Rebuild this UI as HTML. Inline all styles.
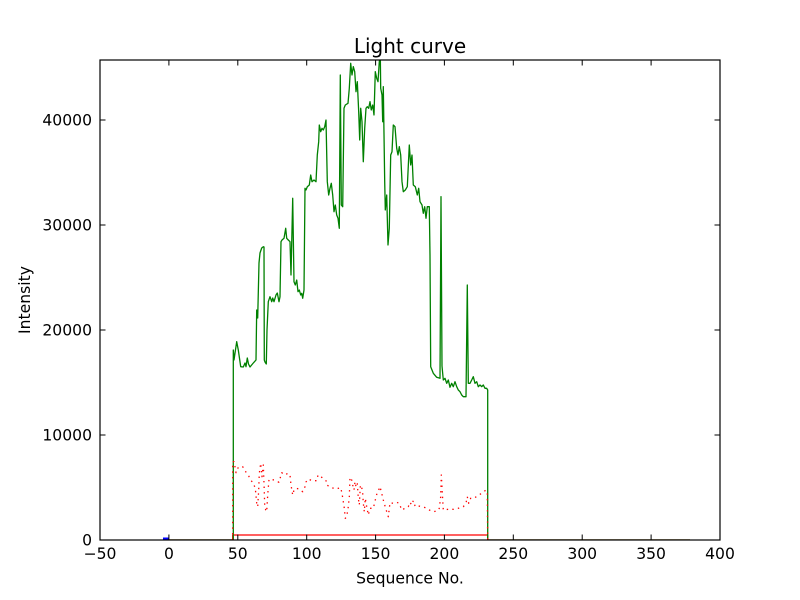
<!DOCTYPE html>
<html>
<head>
<meta charset="utf-8">
<style>
html,body{margin:0;padding:0;background:#fff;}
svg{display:block;}
text{font-family:"DejaVu Sans","Liberation Sans",sans-serif;fill:#000;}
</style>
</head>
<body>
<svg width="800" height="600" viewBox="0 0 800 600" xmlns="http://www.w3.org/2000/svg">
<rect x="0" y="0" width="800" height="600" fill="#fff"/>
<defs>
<clipPath id="pa"><rect x="100" y="60" width="620" height="480"/></clipPath>
</defs>
<g clip-path="url(#pa)" fill="none" stroke-linejoin="round">
<!-- red solid -->
<polyline stroke="#ff0000" stroke-width="1.3" points="168.9,540 232.7,540 232.7,535 487.7,535 487.7,540 690,540"/>
<!-- green -->
<polyline stroke="#008000" stroke-width="1.3" points="168.9,540 233.3,540 233.3,350 234,360 236.7,341.7 238.3,350 240.7,366.7 243.3,367 245,363 246,366.7 247.3,358 248.5,364 250,367 253.3,363 256,360 256.7,310 257.7,318 259,263 260,253 261.7,248 263.3,246.7 264,247 264.3,360 265,362 266.3,364 267,330 268.3,301.7 270,296.7 271.7,301.7 272.7,298 274,301.7 276,295 277.3,293 279,301.7 280,296.7 281,241.7 282,240 284,238.3 285.7,228.3 286.7,238.3 288.3,240 290,241.7 291,275 292.7,198.3 294,281.7 295.3,285 296.7,280 298,291.7 299.3,290 300.7,295 301.7,293.3 302.7,298.3 304,290 305,188.3 306,190 307.3,186.7 309.3,185 310.7,175 312,181.7 314,180 316,181.7 317.3,155 318.7,141.7 319.3,125 320.7,131.7 322,128.3 323.3,130 324.7,126.7 326,120 327.3,181.7 328.7,195 330,188.3 331.3,183.3 332.7,195 334,211.7 335.3,205 336.7,215 338,218.3 339.3,228.3 340.3,75 341.3,205 342.7,206.7 344,108.3 345.3,105 348,103.3 349.3,88.3 350.7,63.3 352,75 353.3,66.7 354.7,71.7 356,91.7 357.3,81.7 358.7,111.7 359.7,140 360.7,108.3 362,121.7 363.3,161.7 364.7,128.3 366,108.3 367.3,106.7 368.7,108.3 370,101.7 371.3,110 372.7,105 374,115 375.3,71.7 376.7,78.3 378,81.7 379.3,61.7 380.3,55 380.7,88.3 382,95 382.7,121.7 383.3,86.7 384.7,181.7 385.3,210 386.7,195 388,245 389.3,228.3 390.7,155 392,151.7 393.3,125 395,126.7 396.7,148.3 398,155 399.3,146.7 400.7,155 402,181.7 403.3,191.7 405.3,190 407.3,186.7 409.3,145 410.7,165 412,155 413.3,185 415.3,186.7 417.3,195 418.7,188.3 420,201.7 422,205 423.3,213.3 424.7,206.7 426,218.3 427.3,206.7 429.3,206.7 430,255 430.7,366.7 433.3,373.3 436.7,377.3 440,378.3 441,196.7 442,366 443.3,380 445,378.3 446.7,383.3 448.3,380 450,387.3 451.7,383.3 453.3,386.7 455,381.7 456.7,386.7 458.3,390 460,391.7 461.7,395 463.3,396.7 465,396.7 466,396.7 467.3,285 468.3,383.3 470,383.3 471.7,380 473.3,376.7 475,383.3 476.7,381.7 478.3,386.7 480,385 481.7,386.7 483.3,385 485,388.3 486.7,388.3 487.7,390 487.7,540 690,540"/>
<!-- red dotted -->
<polyline stroke="#ff0000" stroke-width="1.3" stroke-dasharray="1.4 4.2" points="232.7,540 232.7,461.7 234,461.7 234.7,465 236,472.7 238.3,467.3 242.7,466.7 245.7,471.7 248.7,476 250.7,480 253.3,483.3 255.3,488.3 256.7,503.3 257.7,506.7 258.7,490 259.3,473.3 260.7,463.3 262,476.7 263.3,465 264,483.3 264.7,505 265.7,510 266.7,511.7 267.7,495 269,479.3 274.3,480 279,482.3 281.7,472.7 285.3,475 287.7,473.3 290,475 291,485 292.7,495 294,490 295.7,488.3 299.3,489 302.7,491.7 305,486.7 306,482 308.3,479 312,480.7 316.7,480.7 318,475 321.7,477.3 326,480.7 326.7,485 331.7,487.7 336,489 340.7,487.7 342,493.3 343.3,501.7 344.3,508.3 345.3,518.3 346.7,516.7 348.3,506.7 349.3,496.7 350,477.3 351.7,480 352.7,485 354,490 355,481.7 356,486.7 357.3,483.3 358.3,498.3 359.3,505 360.3,486.7 361.3,485 362.7,493.3 363.3,503.3 364.3,511.7 365.3,498.3 366.7,506.7 368.3,515 370,508.3 373.3,508.3 375.3,500 377,493.3 378.7,490 380,486.7 381.7,493.3 383.3,500 385,506 386.7,511.7 388.3,516.7 390,502.7 393.3,503.3 396.7,502.3 399.3,503.3 401.7,510 405,508.3 408.3,506.7 410,502.3 411.7,505 413.3,500.7 415.3,506.7 418.3,506 422.7,506.7 426.7,508.3 429.3,510 433.3,511.7 437.3,511 439.3,508.3 440.7,496.7 441.3,475 442,486.7 442.7,500 443.3,510 448.3,509.3 453.3,509.3 458.3,508.3 463.3,506.7 466,503.3 467.3,496.7 468.7,503.3 470.7,498.3 474,498.3 477.3,496 481.7,493.3 486,490 487.3,493.3 487.7,540"/>
<!-- blue -->
<rect x="163" y="537.5" width="5.5" height="2.5" fill="#0000ff" stroke="none"/>
</g>
<!-- axes frame -->
<rect x="100" y="60" width="620" height="480" fill="none" stroke="#000" stroke-width="1.2"/>
<!-- ticks -->
<g stroke="#000" stroke-width="1">
<!-- x ticks bottom & top -->
<path d="M100,540v-5.5M168.9,540v-5.5M237.8,540v-5.5M306.7,540v-5.5M375.6,540v-5.5M444.4,540v-5.5M513.3,540v-5.5M582.2,540v-5.5M651.1,540v-5.5M720,540v-5.5"/>
<path d="M100,60v5.5M168.9,60v5.5M237.8,60v5.5M306.7,60v5.5M375.6,60v5.5M444.4,60v5.5M513.3,60v5.5M582.2,60v5.5M651.1,60v5.5M720,60v5.5"/>
<!-- y ticks left & right -->
<path d="M100,540h5.5M100,435h5.5M100,330h5.5M100,225h5.5M100,120h5.5"/>
<path d="M720,540h-5.5M720,435h-5.5M720,330h-5.5M720,225h-5.5M720,120h-5.5"/>
</g>
<!-- x tick labels -->
<g font-size="15.6" text-anchor="middle">
<text x="100" y="559">−50</text>
<text x="168.9" y="559">0</text>
<text x="237.8" y="559">50</text>
<text x="306.7" y="559">100</text>
<text x="375.6" y="559">150</text>
<text x="444.4" y="559">200</text>
<text x="513.3" y="559">250</text>
<text x="582.2" y="559">300</text>
<text x="651.1" y="559">350</text>
<text x="720" y="559">400</text>
</g>
<!-- y tick labels -->
<g font-size="15.6" text-anchor="end">
<text x="92" y="545.7">0</text>
<text x="92" y="440.7">10000</text>
<text x="92" y="335.7">20000</text>
<text x="92" y="230.7">30000</text>
<text x="92" y="125.7">40000</text>
</g>
<!-- labels -->
<text x="410" y="583.4" font-size="15.6" text-anchor="middle">Sequence No.</text>
<text x="0" y="0" font-size="15.6" text-anchor="middle" transform="translate(30,300) rotate(-90)">Intensity</text>
<text x="410" y="53" font-size="20" text-anchor="middle">Light curve</text>
</svg>
</body>
</html>
